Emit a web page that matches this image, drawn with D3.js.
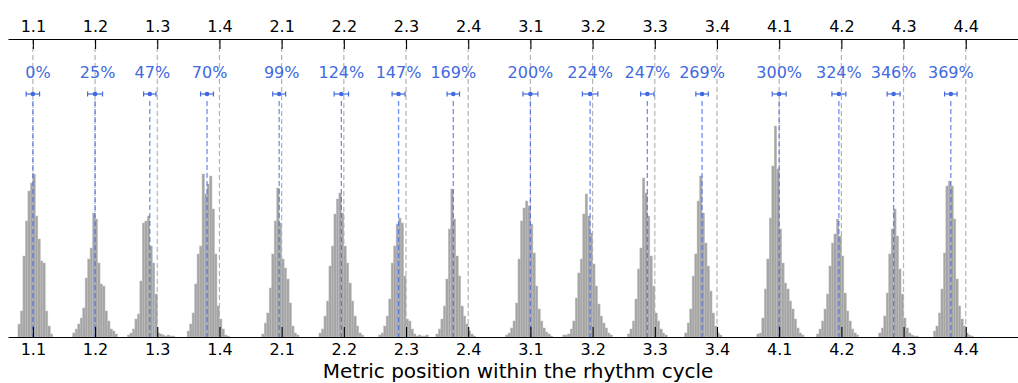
<!DOCTYPE html>
<html>
<head>
<meta charset="utf-8">
<script src="https://cdn.jsdelivr.net/npm/d3@7"></script>
<style>
  html, body { margin: 0; padding: 0; background: #fff; }
  svg { display: block; font-family: "DejaVu Sans", sans-serif; }
</style>
</head>
<body>
<svg id="chart" width="1018" height="383"></svg>
<script>
// Metric positions (beat.subdivision) of the rhythm cycle
const positions = ["1.1","1.2","1.3","1.4","2.1","2.2","2.3","2.4",
                   "3.1","3.2","3.3","3.4","4.1","4.2","4.3","4.4"];
// Nominal onset of each position, in percent of a beat
const nominal = [0,25,50,75,100,125,150,175,200,225,250,275,300,325,350,375];
// Mean observed onset (percent of a beat)
const meanOnset = [0,25,47,70,99,124,147,169,200,224,247,269,300,324,346,369];
// Spread of the onset around the mean (percent of a beat)
const spread = [2.7,3.0,2.5,2.6,2.6,2.9,2.6,2.5,3.0,3.1,2.7,2.5,2.8,2.8,2.6,2.5];
// Lower edge of the first 1%-wide histogram bin for each position
const histStart = [-6,16,38,62,92,115,139,162,190,213,239,262,291,315,340,362];
// Onset counts per 1% bin
const histCounts = [
  [13,26,81,116,146,154,163,121,98,76,74,26,11,3],
  [4,8,13,19,29,59,78,89,124,118,74,53,51,26,16,8,6,3],
  [2,4,8,18,23,56,114,116,121,91,74,43,4,3,2,1,2,1,1],
  [6,13,24,53,83,91,163,143,153,161,128,83,31,18,8,2,1],
  [3,14,24,49,83,116,149,114,78,69,58,34,11,4,2],
  [4,8,21,36,71,91,123,138,144,124,91,74,54,36,21,11,4,2],
  [2,4,11,21,38,74,91,113,119,114,61,18,16,8,3,1,2,1,1,2],
  [3,8,18,31,58,108,148,118,81,61,31,21,13,6,3,1],
  [2,4,9,16,34,78,116,129,136,131,113,84,51,28,16,9,5,3,1],
  [2,2,3,8,16,39,64,78,123,143,121,104,73,51,33,21,14,9,4,2],
  [3,8,16,38,68,89,159,144,121,81,51,24,16,8,4,2],
  [4,14,28,61,83,136,161,124,94,71,46,24,11,4,2],
  [3,4,19,48,78,119,171,211,168,108,74,54,48,36,28,18,9,4,2],
  [3,8,16,28,43,71,94,103,118,101,81,44,26,16,8,4,2],
  [4,9,21,44,83,108,128,101,68,43,19,9,4,2,1,1],
  [6,11,24,48,84,151,156,151,118,58,31,18,11,4,2,1]
];

const svg = d3.select("#chart");
const blue = "#4169e1";
const fontSize = 16;

const x = d3.scaleLinear().domain([-10, 396]).range([8, 1018]);
const y = d3.scaleLinear().domain([0, 298]).range([337, 39]);
const yTop = 39, yBase = 337;

// nominal position guides
svg.append("g").selectAll("line").data(nominal).join("line")
  .attr("x1", d => x(d)).attr("x2", d => x(d))
  .attr("y1", yTop).attr("y2", yBase)
  .attr("stroke", "#b4b4b4").attr("stroke-width", 1.2)
  .attr("stroke-dasharray", "5,3");

// histograms of onsets
const bins = [];
histCounts.forEach((counts, g) => {
  counts.forEach((c, i) => bins.push({ x0: histStart[g] + i, x1: histStart[g] + i + 1, c }));
});
svg.append("g").selectAll("rect").data(bins).join("rect")
  .attr("x", d => x(d.x0))
  .attr("width", d => x(d.x1) - x(d.x0))
  .attr("y", d => y(d.c))
  .attr("height", d => y(0) - y(d.c))
  .attr("fill", "#959595")
  .attr("fill-opacity", 0.85)
  .attr("stroke", "#c0c0c0")
  .attr("stroke-width", 0.5);

// mean onset lines
svg.append("g").selectAll("line").data(meanOnset).join("line")
  .attr("x1", d => x(d)).attr("x2", d => x(d))
  .attr("y1", 101).attr("y2", yBase)
  .attr("stroke", blue).attr("stroke-opacity", 0.75).attr("stroke-width", 1.3)
  .attr("stroke-dasharray", "5,3");

// error bars
const eb = svg.append("g");
const yErr = 94;
meanOnset.forEach((m, i) => {
  eb.append("line").attr("x1", x(m - spread[i])).attr("x2", x(m + spread[i]))
    .attr("y1", yErr).attr("y2", yErr).attr("stroke", blue).attr("stroke-width", 1.2);
  [m - spread[i], m + spread[i]].forEach(v => {
    eb.append("line").attr("x1", x(v)).attr("x2", x(v))
      .attr("y1", yErr - 2.5).attr("y2", yErr + 2.5).attr("stroke", blue).attr("stroke-width", 1.2);
  });
  eb.append("circle").attr("cx", x(m)).attr("cy", yErr).attr("r", 2.3).attr("fill", blue);
});

// percent labels, padded to a three-digit width
const spaceW = 0.318 * fontSize;
svg.append("g").selectAll("text").data(meanOnset).join("text")
  .attr("x", d => x(d)).attr("y", 77.5)
  .attr("dx", d => (3 - String(d).length) * spaceW / 2)
  .attr("text-anchor", "middle")
  .attr("fill", blue).attr("font-size", fontSize)
  .text(d => d + "%");

// axes
const fmt = (d, i) => positions[i];
const topAxis = d3.axisTop(x).tickValues(nominal).tickFormat(fmt).tickSize(-10).tickPadding(7).tickSizeOuter(0);
const botAxis = d3.axisBottom(x).tickValues(nominal).tickFormat(fmt).tickSize(-10).tickPadding(7).tickSizeOuter(0);

const gt = svg.append("g").attr("transform", `translate(0,${yTop})`).call(topAxis);
const gb = svg.append("g").attr("transform", `translate(0,${yBase})`).call(botAxis);
[gt, gb].forEach(g => {
  g.attr("font-size", fontSize).attr("font-family", "DejaVu Sans, sans-serif");
  g.select(".domain").attr("stroke", "#000").attr("stroke-width", 1.1);
  g.selectAll(".tick line").attr("stroke", "#000").attr("stroke-width", 1.1);
  g.selectAll(".tick text").attr("fill", "#000");
});

svg.append("text")
  .attr("x", 518).attr("y", 378)
  .attr("text-anchor", "middle").attr("font-size", 20).attr("fill", "#000")
  .text("Metric position within the rhythm cycle");
</script>
</body>
</html>
